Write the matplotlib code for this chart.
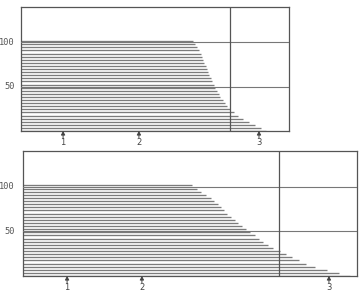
import numpy as np
import matplotlib
matplotlib.use("Agg")
import matplotlib.pyplot as plt

# ---- data ----
# envelope of the stacked traces, top panel (x in arbitrary units 0-100)
top_env_x = [0, 20, 40, 63.8, 66.8, 70.5, 74.3, 78.0, 81.7, 85.4, 89.2, 91.4]
top_env_y = [102, 102, 102, 103, 89, 61, 39, 24, 16, 10, 4.5, 0]
# envelope of the stacked traces, bottom panel
bot_env_x = [0, 20, 40, 50, 56, 59, 62, 65, 68, 71, 74, 77, 80, 83, 86, 89, 92, 95, 98]
bot_env_y = [102, 103, 103, 103, 88, 78, 67, 58, 49, 41, 33, 28, 22, 17, 12, 9, 6, 3, 0]

top_marks = [15.7, 44.0, 88.8]
bot_marks = [13.2, 35.6, 91.6]
mark_labels = ["1", "2", "3"]
top_vline = 78.0
bot_vline = 76.6
ytick_vals = [50, 100]
ytick_labels = ["50", "100"]
n_traces = 30
trace_top = 101.5

fig = plt.figure(figsize=(3.63, 2.92), dpi=100)
ax_top = fig.add_axes([21/363, 1-131/292, (289-21)/363, (131-7)/292])
ax_bot = fig.add_axes([23/363, 1-276/292, (357-23)/363, (276-151)/292])

levels = np.linspace(0, trace_top, n_traces)

def draw(ax, ex, ey, marks, vline):
    ex = np.asarray(ex, float); ey = np.asarray(ey, float)
    ipk = int(np.argmax(ey))
    dx = ex[ipk:][::-1]; dy = ey[ipk:][::-1]
    for L in levels:
        xe = np.interp(L, dy, dx)
        ax.plot([ex[0], xe], [L, L], color="#7c7c7c", lw=0.95, solid_capstyle="butt", zorder=2)
    for v in ytick_vals:
        ax.axhline(v, color="#777777", lw=0.8, zorder=3)
    ax.axvline(vline, color="#555555", lw=0.9, zorder=3)
    ax.set_xlim(0, 100)
    ax.set_ylim(0, 140)
    ax.set_xticks([]); ax.set_yticks([])
    for s in ax.spines.values():
        s.set_color("#555555"); s.set_linewidth(0.9)
    for m, lab in zip(marks, mark_labels):
        ax.annotate("", xy=(m, 0.0), xycoords=("data", "axes fraction"),
                    xytext=(m, -0.055), textcoords=("data", "axes fraction"),
                    arrowprops=dict(arrowstyle="-|>,head_length=0.22,head_width=0.12",
                                    color="#444444", lw=0.7, shrinkA=0, shrinkB=0),
                    annotation_clip=False)
        ax.text(m, -0.058, lab, transform=ax.get_xaxis_transform(), ha="center", va="top",
                fontsize=6, color="#444444", family="DejaVu Sans")

draw(ax_top, top_env_x, top_env_y, top_marks, top_vline)
draw(ax_bot, bot_env_x, bot_env_y, bot_marks, bot_vline)

for v, lab in zip(ytick_vals, ytick_labels):
    ax_top.text(-6/268, v, lab, transform=ax_top.get_yaxis_transform(), ha="right", va="center",
                fontsize=6.2, color="#555555", family="DejaVu Sans Mono")
    ax_bot.text(-8/334, v, lab, transform=ax_bot.get_yaxis_transform(), ha="right", va="center",
                fontsize=6.2, color="#555555", family="DejaVu Sans Mono")

fig.savefig("out.png", dpi=100, facecolor="white")
